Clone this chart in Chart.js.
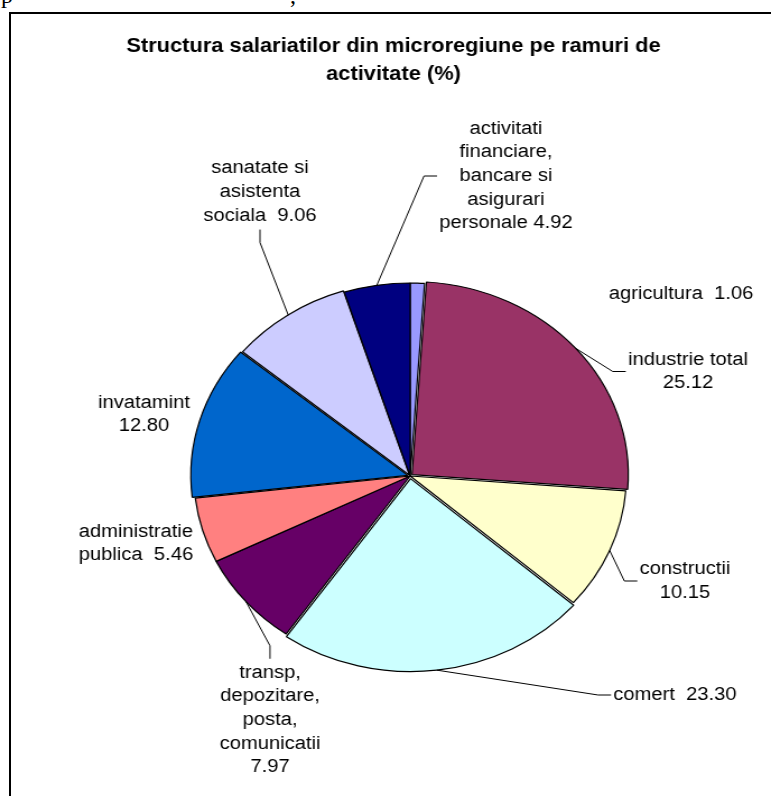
<!DOCTYPE html>
<html><head><meta charset="utf-8">
<script src="https://cdn.jsdelivr.net/npm/chart.js@4.4.1/dist/chart.umd.min.js"></script>
<style>
html,body{margin:0;padding:0;background:#fff;overflow:hidden;width:771px;height:796px;}
#frame{position:absolute;left:9px;top:12px;width:900px;height:900px;border:2px solid #000;box-sizing:border-box;}
#wrap{position:absolute;left:0;top:0;width:688px;height:796px;transform:scaleX(1.1206);transform-origin:0 0;}
.frag{position:absolute;font-family:"Liberation Serif","Times New Roman",serif;font-size:24px;line-height:24px;}
</style></head>
<body>
<div class="frag" style="left:1px;top:-17px">p</div>
<div class="frag" style="left:290px;top:-17px">,</div>
<div id="frame"></div>
<div id="wrap"><canvas id="c" width="688" height="796"></canvas></div>
<script>
// ---- data ----
const categories = [
  'agricultura',
  'industrie total',
  'constructii',
  'comert',
  'transp, depozitare, posta, comunicatii',
  'administratie publica',
  'invatamint',
  'sanatate si asistenta sociala',
  'activitati financiare, bancare si asigurari personale'
];
const values = [1.06, 25.12, 10.15, 23.30, 7.97, 5.46, 12.80, 9.06, 4.92];
const colors = ['#9999FF','#993366','#FFFFCC','#CCFFFF','#660066','#FF8080','#0066CC','#CCCCFF','#000080'];
const titleLines = ['Structura salariatilor din microregiune pe ramuri de', 'activitate (%)'];
// label text: name lines, then how the value is joined ('\n' = own line)
const labelNameLines = [
  ['agricultura'],
  ['industrie total'],
  ['constructii'],
  ['comert'],
  ['transp,', 'depozitare,', 'posta,', 'comunicatii'],
  ['administratie', 'publica'],
  ['invatamint'],
  ['sanatate si', 'asistenta', 'sociala'],
  ['activitati', 'financiare,', 'bancare si', 'asigurari', 'personale']
];
const valueJoin = ['  ', '\n', '\n', '  ', '\n', '  ', '\n', '  ', ' '];

// ---- layout (not data) ----
const STRETCH = 771 / 688;
const LINE_H = 23.7;
// explode distance in pixels (Chart.js v4 arc offset is divided by 4 when drawn)
const slicePull = [0, 2.2, 0, 2.6, 0, 0, 2.2, 1, 0];
const labelCenters = [[681,294],[688,371.5],[685,581],[675,695],[270,720],[136,543.5],[144,414.5],[260,192],[506,176]];
const leaderSides = [null,'left','left','left','top',null,null,'bottom','left'];
const ELBOW = 13;

function labelText(i){
  const names = labelNameLines[i].slice();
  const v = values[i].toFixed(2);
  if (valueJoin[i] === '\n') names.push(v);
  else names[names.length-1] = names[names.length-1] + valueJoin[i] + v;
  return names;
}

const titlePlugin = {
  id:'titleDraw',
  afterDraw(chart){
    const ctx = chart.ctx;
    ctx.save();
    ctx.font = 'bold 19.5px "Liberation Sans", Arial, sans-serif';
    ctx.fillStyle = '#000';
    ctx.textAlign = 'center';
    ctx.textBaseline = 'middle';
    const cx = 393.5 / STRETCH;
    ctx.fillText(titleLines[0], cx, 47);
    ctx.fillText(titleLines[1], cx, 75);
    ctx.restore();
  }
};

const pieLabels = {
  id:'pieLabels',
  afterDatasetsDraw(chart){
    const ctx = chart.ctx;
    const meta = chart.getDatasetMeta(0);
    ctx.save();
    ctx.font = '18px "Liberation Sans", Arial, sans-serif';
    ctx.fillStyle = '#000';
    ctx.strokeStyle = '#000';
    ctx.lineWidth = 1;
    ctx.textAlign = 'center';
    ctx.textBaseline = 'middle';
    meta.data.forEach((arc, i) => {
      const p = arc.getProps(['x','y','startAngle','endAngle','outerRadius'], true);
      const mid = (p.startAngle + p.endAngle) / 2;
      const off = slicePull[i] || 0;
      const ex = p.x + Math.cos(mid) * (p.outerRadius + off);
      const ey = p.y + Math.sin(mid) * (p.outerRadius + off);
      const lines = labelText(i);
      const cx = labelCenters[i][0] / STRETCH;
      const cy = labelCenters[i][1];
      const n = lines.length;
      const top = cy - (n - 1) / 2 * LINE_H;
      lines.forEach((t, k) => ctx.fillText(t, cx, top + k * LINE_H));
      const side = leaderSides[i];
      if (side) {
        const w = Math.max(...lines.map(t => ctx.measureText(t).width));
        let ax, ay, bx, by;
        if (side === 'left') {
          ax = cx - w / 2 - 2; ay = cy; bx = ax - ELBOW / STRETCH; by = ay;
        } else if (side === 'top') {
          ax = cx; ay = top - LINE_H / 2 - 2; bx = ax; by = ay - ELBOW;
        } else {
          ax = cx; ay = top + (n - 1) * LINE_H + LINE_H / 2 + 2; bx = ax; by = ay + ELBOW;
        }
        ctx.beginPath();
        ctx.moveTo(ex, ey);
        ctx.lineTo(bx, by);
        ctx.lineTo(ax, ay);
        ctx.stroke();
      }
    });
    ctx.restore();
  }
};

new Chart(document.getElementById('c'), {
  type: 'pie',
  data: {
    labels: categories,
    datasets: [{
      data: values,
      backgroundColor: colors,
      borderColor: '#000',
      borderWidth: 1.2,
      offset: slicePull.map(d => d * 4),
      radius: 193
    }]
  },
  options: {
    responsive: false,
    animation: false,
    events: [],
    layout: { padding: { left: 100, right: 56, top: 200, bottom: 44 } },
    plugins: { legend: { display: false }, tooltip: { enabled: false }, title: { display: false } }
  },
  plugins: [pieLabels, titlePlugin]
});
</script>
</body></html>
